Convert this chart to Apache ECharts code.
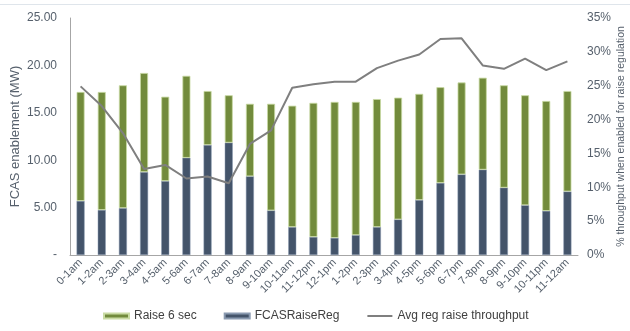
<!DOCTYPE html>
<html>
<head>
<meta charset="utf-8">
<script src="https://cdn.jsdelivr.net/npm/echarts@6/dist/echarts.min.js"></script>
<style>
  html, body { margin: 0; padding: 0; background: #fff; }
  #chart { width: 630px; height: 331px; }
</style>
</head>
<body>
<div id="chart"></div>
<script>
// Hourly periods of the day
const hours = ['0-1am','1-2am','2-3am','3-4am','4-5am','5-6am','6-7am','7-8am','8-9am','9-10am','10-11am','11-12pm',
               '12-1pm','1-2pm','2-3pm','3-4pm','4-5pm','5-6pm','6-7pm','7-8pm','8-9pm','9-10pm','10-11pm','11-12am'];

// Regulation raise enablement (MW)
const fcasRaiseReg = [5.7, 4.75, 4.95, 8.75, 7.8, 10.25, 11.6, 11.85, 8.3, 4.7, 2.95, 1.9,
                      1.8, 2.1, 2.95, 3.75, 5.8, 7.6, 8.5, 9.0, 7.1, 5.25, 4.65, 6.7];

// Total stack height (MW); the Raise 6 sec portion sits on top of regulation
const totalEnablement = [17.2, 17.2, 17.9, 19.2, 16.7, 18.9, 17.3, 16.85, 15.95, 15.95, 15.75, 16.05,
                         16.15, 16.15, 16.45, 16.6, 17.0, 17.7, 18.2, 18.7, 17.9, 16.85, 16.25, 17.3];
const raise6Sec = totalEnablement.map((t, i) => +(t - fcasRaiseReg[i]).toFixed(2));

// Average regulation raise throughput (%)
const avgRegThroughput = [24.9, 22.0, 18.0, 12.7, 13.3, 11.3, 11.6, 10.6, 16.4, 18.4, 24.7, 25.2,
                          25.6, 25.6, 27.6, 28.7, 29.6, 31.9, 32.0, 28.0, 27.5, 29.0, 27.3, 28.6];

const leftTicks = { min: 0, max: 25, interval: 5 };
const rightTicks = { min: 0, max: 35, interval: 5 };

const labelColor = '#56606c';
const chart = echarts.init(document.getElementById('chart'), null, { renderer: 'canvas' });

chart.setOption({
  animation: false,
  textStyle: { fontFamily: 'Liberation Sans, Arial, sans-serif' },
  graphic: [{
    type: 'line',
    shape: { x1: 0, y1: 4.5, x2: 630, y2: 4.5 },
    style: { stroke: '#dfe5eb', lineWidth: 1 }
  }],
  grid: { left: 70, right: 52, top: 18, bottom: 76, outerBoundsMode: 'none', containLabel: false },
  legend: {
    bottom: 4,
    left: 98,
    itemGap: 27,
    itemWidth: 25,
    itemHeight: 5,
    textStyle: { fontSize: 12, color: '#404040' },
    data: [
      { name: 'Raise 6 sec', icon: 'rect' },
      { name: 'FCASRaiseReg', icon: 'rect' },
      { name: 'Avg reg raise throughput', itemStyle: { opacity: 0 } }
    ]
  },
  xAxis: {
    type: 'category',
    data: hours,
    axisLine: { lineStyle: { color: '#a6a6a6', width: 1 } },
    axisTick: { show: false },
    axisLabel: { rotate: 45, fontSize: 11, color: labelColor, margin: 6, interval: 0 }
  },
  yAxis: [{
    type: 'value',
    min: leftTicks.min, max: leftTicks.max, interval: leftTicks.interval,
    name: 'FCAS enablement (MW)',
    nameLocation: 'middle',
    nameGap: 48,
    nameMoveOverlap: false,
    nameTextStyle: { fontSize: 13, color: labelColor },
    axisLine: { show: true, lineStyle: { color: '#a6a6a6' } },
    axisTick: { show: false },
    splitLine: { show: false },
    axisLabel: {
      fontSize: 12, color: labelColor, margin: 13,
      formatter: v => v === 0 ? '-' : v.toFixed(2)
    }
  }, {
    type: 'value',
    min: rightTicks.min, max: rightTicks.max, interval: rightTicks.interval,
    name: '% throughput when enabled for raise regulation',
    nameLocation: 'middle',
    nameGap: 38,
    nameMoveOverlap: false,
    nameRotate: 90,
    nameTextStyle: { fontSize: 10.5, color: labelColor },
    axisLine: { show: false },
    axisTick: { show: false },
    splitLine: { show: false },
    axisLabel: { fontSize: 12, color: labelColor, margin: 9, formatter: '{value}%' }
  }],
  series: [{
    name: 'FCASRaiseReg',
    type: 'bar',
    stack: 'mw',
    barWidth: 8,
    data: fcasRaiseReg,
    itemStyle: { color: '#44546a', borderColor: '#8a9ab0', borderWidth: 0.5 }
  }, {
    name: 'Raise 6 sec',
    type: 'bar',
    stack: 'mw',
    barWidth: 8,
    data: raise6Sec,
    itemStyle: { color: '#728b3c', borderColor: '#c9dba4', borderWidth: 0.8 }
  }, {
    name: 'Avg reg raise throughput',
    type: 'line',
    yAxisIndex: 1,
    data: avgRegThroughput,
    symbol: 'none',
    lineStyle: { color: '#7f7f7f', width: 2 },
    itemStyle: { color: '#7f7f7f' }
  }]
});
</script>
</body>
</html>
